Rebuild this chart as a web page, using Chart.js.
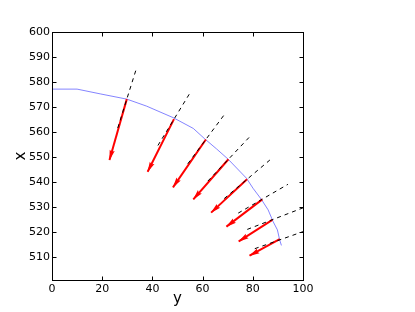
<!DOCTYPE html>
<html>
<head>
<meta charset="utf-8">
<script src="https://cdn.jsdelivr.net/npm/chart.js@4/dist/chart.umd.min.js"></script>
<style>
  html, body { margin: 0; padding: 0; background: #fff; }
  #wrap { width: 415px; height: 312px; }
</style>
</head>
<body>
<div id="wrap"><canvas id="c" width="415" height="312"></canvas></div>
<script>
// ---- data ----
const xTicks = [0, 20, 40, 60, 80, 100];
const yTicks = [510, 520, 530, 540, 550, 560, 570, 580, 590, 600];

// blue curve
const curveX = [0, 10, 19.2, 29.8, 37.7, 48.3, 56.3, 60.9, 65.6, 70.2, 77.5, 80.1, 83.4, 86.1, 88.1, 89.8, 90.7, 91.4];
const curveY = [577.2, 577.2, 575.3, 573.2, 570.4, 565.8, 561.5, 557.3, 553.3, 549.2, 541.6, 537.6, 533.2, 529.0, 524.3, 521.0, 517.0, 514.8];

// red arrows (tail on curve -> head)
const tailX = [29.8, 48.6, 61.3, 70.3, 77.7, 83.8, 87.8, 90.7];
const tailY = [573.2, 565.2, 557.1, 549.2, 541.2, 533.2, 525.0, 517.3];
const headX = [22.9, 38.1, 48.2, 56.3, 63.4, 69.5, 74.4, 78.7];
const headY = [548.9, 544.2, 538.0, 533.2, 527.9, 522.3, 516.4, 510.7];

// dashed normal lines (inner end -> outer end)
const normInX  = [26.2, 42.2, 54.1, 62.1, 68.6, 74.2, 77.8, 80.8];
const normInY  = [561.7, 554.7, 547.4, 540.5, 533.5, 527.7, 521.2, 513.5];
const normOutX = [33.4, 55.0, 68.5, 78.5, 86.8, 94.0, 100, 100];
const normOutY = [584.7, 575.7, 566.8, 557.9, 548.9, 539.2, 529.8, 520.3];

// ---- build datasets ----
const datasets = [];
datasets.push({
  data: curveX.map((x, i) => ({ x, y: curveY[i] })),
  borderColor: 'rgba(80,80,255,0.7)', borderWidth: 1, showLine: true,
  pointRadius: 0, order: 3
});
tailX.forEach((_, i) => {
  datasets.push({
    data: [{ x: tailX[i], y: tailY[i] }, { x: headX[i], y: headY[i] }],
    borderColor: '#ff0000', borderWidth: 2, showLine: true,
    pointRadius: 0, order: 2
  });
});
normInX.forEach((_, i) => {
  datasets.push({
    data: [{ x: normInX[i], y: normInY[i] }, { x: normOutX[i], y: normOutY[i] }],
    borderColor: '#000000', borderWidth: 1, borderDash: [4, 4], showLine: true,
    pointRadius: 0, order: 1
  });
});

const FONT = 'DejaVu Sans';

const arrowHeads = {
  id: 'arrowHeads',
  afterDatasetsDraw(chart) {
    const ctx = chart.ctx, sx = chart.scales.x, sy = chart.scales.y;
    const ca = chart.chartArea;
    ctx.save();
    ctx.beginPath();
    ctx.rect(ca.left, ca.top, ca.right - ca.left, ca.bottom - ca.top);
    ctx.clip();
    ctx.fillStyle = '#ff0000';
    const L = 10, W = 2.6;
    for (let i = 0; i < tailX.length; i++) {
      const x1 = sx.getPixelForValue(tailX[i]), y1 = sy.getPixelForValue(tailY[i]);
      const x2 = sx.getPixelForValue(headX[i]), y2 = sy.getPixelForValue(headY[i]);
      const dx = x2 - x1, dy = y2 - y1, len = Math.hypot(dx, dy);
      const ux = dx / len, uy = dy / len, px = -uy, py = ux;
      const bx = x2 - ux * L, by = y2 - uy * L;
      ctx.beginPath();
      ctx.moveTo(x2 + ux * 0.5, y2 + uy * 0.5);
      ctx.lineTo(bx + px * W, by + py * W);
      ctx.lineTo(bx + ux * 1.5, by + uy * 1.5);
      ctx.lineTo(bx - px * W, by - py * W);
      ctx.closePath();
      ctx.fill();
    }
    ctx.restore();
  }
};

const frame = {
  id: 'frame',
  afterDraw(chart) {
    const ctx = chart.ctx, sx = chart.scales.x, sy = chart.scales.y;
    const { left, right, top, bottom } = chart.chartArea;
    const l = Math.round(left) + 0.5, r = Math.round(right) + 0.5;
    const t = Math.round(top) + 0.5, b = Math.round(bottom) + 0.5;
    ctx.save();
    ctx.strokeStyle = '#000';
    ctx.lineWidth = 1;
    ctx.beginPath();
    const T = 4;
    sx.ticks.forEach(tk => {
      const p = Math.round(sx.getPixelForValue(tk.value)) + 0.5;
      ctx.moveTo(p, b); ctx.lineTo(p, b - T);
      ctx.moveTo(p, t); ctx.lineTo(p, t + T);
    });
    sy.ticks.forEach(tk => {
      const p = Math.round(sy.getPixelForValue(tk.value)) + 0.5;
      ctx.moveTo(l, p); ctx.lineTo(l + T, p);
      ctx.moveTo(r, p); ctx.lineTo(r - T, p);
    });
    ctx.stroke();
    ctx.strokeRect(l, t, r - l, b - t);
    ctx.restore();
  }
};

new Chart(document.getElementById('c'), {
  type: 'scatter',
  data: { datasets },
  options: {
    responsive: false,
    animation: false,
    events: [],
    layout: { padding: { left: 0, top: 32, right: 112, bottom: 0 } },
    plugins: { legend: { display: false }, tooltip: { enabled: false } },
    scales: {
      x: {
        type: 'linear', min: 0, max: 100,
        afterBuildTicks: s => { s.ticks = xTicks.map(v => ({ value: v })); },
        afterFit: s => { s.height = 32; },
        grid: { display: false, drawTicks: false },
        border: { display: false },
        ticks: { color: '#000', font: { family: FONT, size: 11 }, padding: 3, maxRotation: 0, autoSkip: false },
        title: { display: true, text: 'y', color: '#000', font: { family: FONT, size: 15 }, padding: { top: 0, bottom: 4 } }
      },
      y: {
        type: 'linear', min: 501, max: 600,
        afterBuildTicks: s => { s.ticks = yTicks.map(v => ({ value: v })); },
        afterFit: s => { s.width = 52; },
        grid: { display: false, drawTicks: false },
        border: { display: false },
        ticks: { color: '#000', font: { family: FONT, size: 11 }, padding: 2, autoSkip: false },
        title: { display: true, text: 'x', color: '#000', font: { family: FONT, size: 15 }, padding: { top: 12, bottom: 0 } }
      }
    }
  },
  plugins: [arrowHeads, frame]
});
</script>
</body>
</html>
